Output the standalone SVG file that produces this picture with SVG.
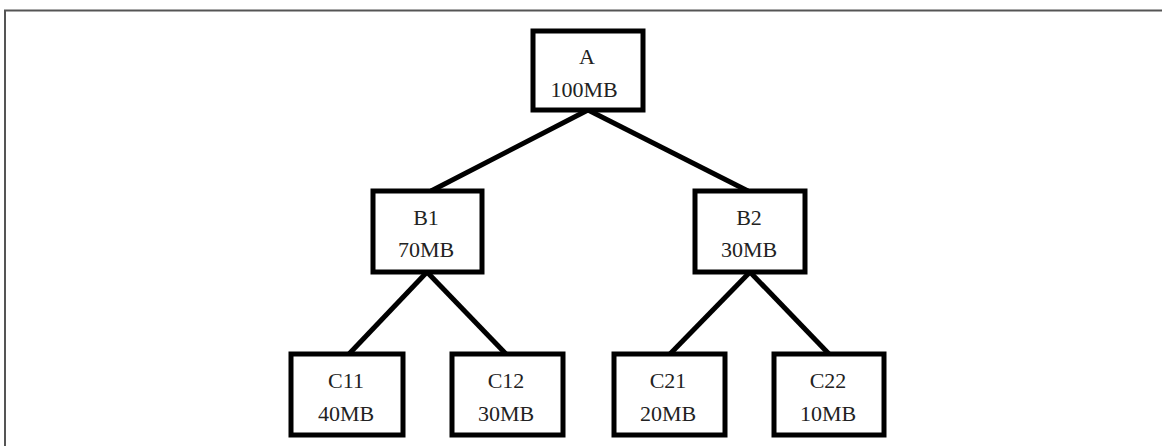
<svg xmlns="http://www.w3.org/2000/svg" width="1162" height="446" viewBox="0 0 1162 446">
  <style>
    .box { fill: #ffffff; stroke: #000000; stroke-width: 5; }
    .edge { stroke: #000000; stroke-width: 5; stroke-linecap: butt; fill: none; }
    .lbl { font-family: "Liberation Serif", "DejaVu Serif", serif; font-size: 22px; fill: #222222; text-anchor: middle; }
    .frame { fill: none; stroke: #555555; stroke-width: 2; }
  </style>
  <rect width="1162" height="446" fill="#ffffff"/>
  <!-- outer frame: top and left edges only -->
  <path class="frame" d="M5,446 V10.5 H1162"/>

  <!-- tree connectors -->
  <g id="connectors">
    <line class="edge" x1="588" y1="110" x2="431" y2="191"/>
    <line class="edge" x1="588" y1="110" x2="748" y2="191"/>
    <line class="edge" x1="427" y1="272" x2="349" y2="354"/>
    <line class="edge" x1="427" y1="272" x2="506" y2="354"/>
    <line class="edge" x1="750" y1="272" x2="670" y2="354"/>
    <line class="edge" x1="750" y1="272" x2="829" y2="354"/>
  </g>

  <g id="node-A">
    <rect class="box" x="533" y="31" width="110" height="79"/>
    <text class="lbl" x="587" y="64">A</text>
    <text class="lbl" x="584" y="97">100MB</text>
  </g>
  <g id="node-B1">
    <rect class="box" x="373" y="191" width="109" height="81"/>
    <text class="lbl" x="426" y="225">B1</text>
    <text class="lbl" x="426" y="257">70MB</text>
  </g>
  <g id="node-B2">
    <rect class="box" x="695" y="191" width="110" height="81"/>
    <text class="lbl" x="749" y="225">B2</text>
    <text class="lbl" x="749" y="257">30MB</text>
  </g>
  <g id="node-C11">
    <rect class="box" x="291" y="354" width="112" height="81"/>
    <text class="lbl" x="346" y="388">C11</text>
    <text class="lbl" x="346" y="421">40MB</text>
  </g>
  <g id="node-C12">
    <rect class="box" x="452" y="354" width="111" height="81"/>
    <text class="lbl" x="506" y="388">C12</text>
    <text class="lbl" x="506" y="421">30MB</text>
  </g>
  <g id="node-C21">
    <rect class="box" x="614" y="354" width="111" height="81"/>
    <text class="lbl" x="668" y="388">C21</text>
    <text class="lbl" x="668" y="421">20MB</text>
  </g>
  <g id="node-C22">
    <rect class="box" x="774" y="354" width="110" height="81"/>
    <text class="lbl" x="828" y="388">C22</text>
    <text class="lbl" x="828" y="421">10MB</text>
  </g>
</svg>
